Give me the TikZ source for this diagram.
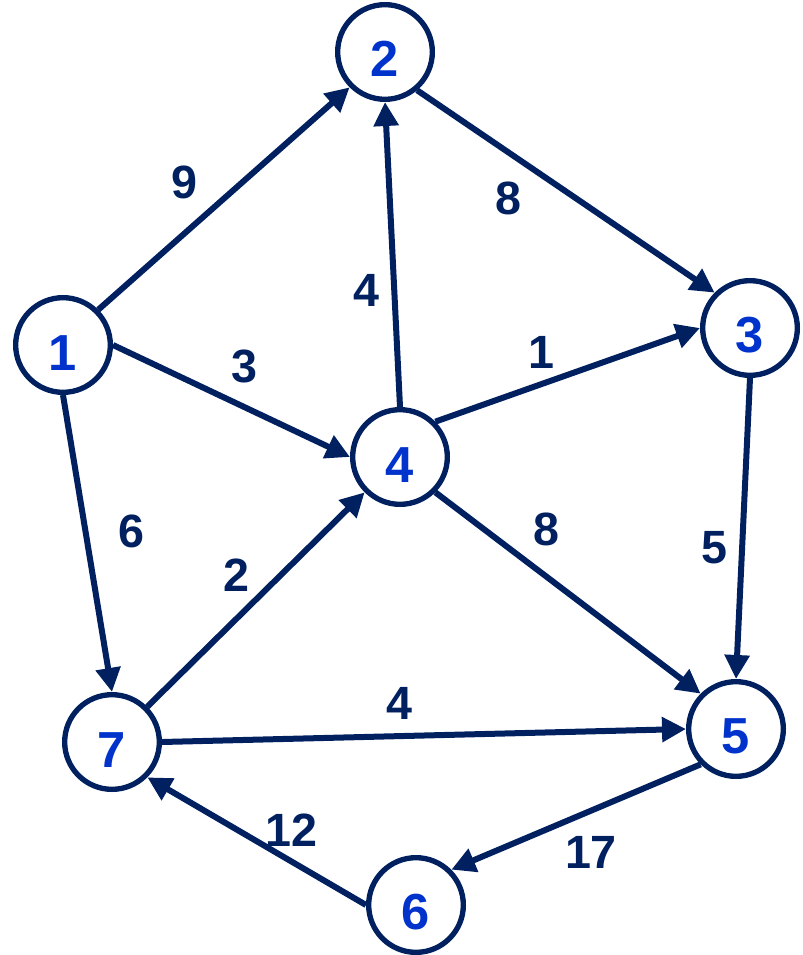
\documentclass[tikz,border=0pt]{standalone}
\usepackage{fontspec}
\setmainfont{Liberation Sans}
\usetikzlibrary{arrows.meta, positioning}
\definecolor{navy}{RGB}{0,32,96}
\definecolor{numblue}{RGB}{0,51,204}

\begin{document}
\begin{tikzpicture}[
        x=0.75pt, y=-0.75pt,
        vertex/.style={circle, draw=navy, line width=4pt, fill=white, minimum size=71pt, inner sep=0pt,
                       text=numblue, font=\fontsize{38}{38}\selectfont\bfseries, text height=37.5pt},
        link/.style={-{Triangle[length=18pt, width=18pt]}, line width=4.5pt, draw=navy},
        wt/.style={inner sep=0pt, text=navy, font=\fontsize{35}{35}\selectfont\bfseries}
    ]
        \useasboundingbox (0,0) rectangle (802,955);

        \node[vertex] (n1) at (63,345)  {1};
        \node[vertex] (n2) at (385,52)  {2};
        \node[vertex] (n3) at (750,328) {3};
        \node[vertex] (n4) at (400,457) {4};
        \node[vertex] (n5) at (736,729) {5};
        \node[vertex] (n6) at (416,905) {6};
        \node[vertex] (n7) at (112,742) {7};

        % weighted arcs
        \draw[link] (n1.45)    -- node[wt, pos=0.444, above left=6.5pt and 7pt]   (w12) {9}  (n2.225);
        \draw[link] (n2.-50)   -- node[wt, pos=0.382, below left=8.4pt and 4.6pt] (w23) {8}  (n3.135);
        \draw[link] (n4.north) -- node[wt, pos=0.381, left=8.75pt]                (w42) {4}  (n2.south);
        \draw[link] (n1.east)  -- node[wt, pos=0.482, above right=9.5pt and 1pt]  (w14) {3}  (n4.west);
        \draw[link] (n4.45)    -- node[wt, pos=0.40, above=9.5pt]                 (w43) {1}  (n3.west);
        \draw[link] (n1.south) -- node[wt, pos=0.461, right=22.4pt]               (w17) {6}  (n7.north);
        \draw[link] (n7.45)    -- node[wt, pos=0.512, above left=2pt and 4.5pt]   (w74) {2}  (n4.225);
        \draw[link] (n4.-45)   -- node[wt, pos=0.331, above right=7.3pt and 5.4pt](w45) {8}  (n5.135);
        \draw[link] (n3.south) -- node[wt, pos=0.565, left=8.6pt]                 (w35) {5}  (n5.north);
        \draw[link] (n7.east)  -- node[wt, pos=0.454, above=10.3pt]               (w75) {4}  (n5.west);
        \draw[link] (n5.225)   -- node[wt, pos=0.44, below=17.3pt]                (w56) {17} (n6.45);
        \draw[link] (n6.west)  -- node[wt, pos=0.339, above=9.4pt]                (w67) {12} (n7.-45);
    \end{tikzpicture}
\end{document}
